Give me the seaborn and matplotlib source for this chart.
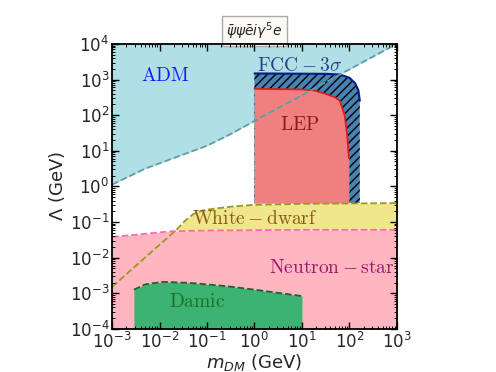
import numpy as np
import pandas as pd
import matplotlib
matplotlib.use("Agg")
import matplotlib.pyplot as plt
import matplotlib.ticker as mticker
import seaborn as sns

# ---------------------------
# data (log10 of m_DM and Lambda, in GeV)
# ---------------------------
adm_logm = [-3.0, -2.3, -1.57, -1.0, -0.5, 0.5, 2.3, 3.0]
adm_logL = [0.05, 0.5, 0.86, 1.14, 1.47, 2.2, 3.5, 4.0]

wd_logm = [-3.0, -1.67, -1.45, -1.29, -1.1, -0.87, -0.5, -0.03, 1.0, 3.0]
wd_logL = [-2.82, -1.25, -0.95, -0.78, -0.68, -0.63, -0.57, -0.52, -0.49, -0.47]

ns_logm = [-3.0, -2.5, -2.0, -1.72, -1.0, 0.0, 1.0, 3.0]
ns_logL = [-1.42, -1.36, -1.29, -1.26, -1.24, -1.23, -1.22, -1.22]

damic_logm = [-2.54, -2.3, -1.93, -1.36, -0.6, 0.0, 1.0]
damic_logL = [-2.9, -2.75, -2.68, -2.71, -2.8, -2.9, -3.08]

fcc_logm = [0.0, 1.5, 1.8, 2.0, 2.12, 2.19, 2.22, 2.22]
fcc_logL = [3.17, 3.16, 3.14, 3.05, 2.9, 2.7, 2.4, -0.47]
fcc_edge_n = 7  # points of the drawn boundary

lep_logm = [0.0, 1.0, 1.23, 1.45, 1.6, 1.7, 1.8, 1.85, 1.9, 1.95, 1.99, 1.99]
lep_logL = [2.74, 2.72, 2.70, 2.62, 2.55, 2.5, 2.4, 2.2, 2.0, 1.5, 0.8, -0.47]
lep_edge_n = 11

labels = {
    "ADM": (-1.88, 3.10, "#1a1aff"),
    r"$\mathrm{FCC}-3\sigma$": (0.96, 3.38, "#2b3f8c"),
    "LEP": (0.96, 1.73, "#8b1a1a"),
    r"$\mathrm{White}-\mathrm{dwarf}$": (0.01, -0.91, "#8b5a10"),
    r"$\mathrm{Neutron}-\mathrm{star}$": (1.63, -2.29, "#99156b"),
    "Damic": (-1.21, -3.22, "#1f6b2a"),
}

sns.set_style("ticks")
fig = plt.figure(figsize=(4.96, 3.72), dpi=100)
ax = fig.add_axes([0.226, 0.116, 0.574, 0.766])

p = lambda v: 10 ** np.asarray(v)
ymin, ymax = 1e-4, 1e4

# ADM
ax.fill_between(p(adm_logm), p(adm_logL), ymax, color="#b0e0e6", lw=0, zorder=1)
# neutron star
ax.fill_between(p(ns_logm), ymin, p(ns_logL), color="#ffb6c1", lw=0, zorder=2)
# white dwarf (between its line and neutron star line)
xx = np.linspace(-3, 3, 400)
wd_i = np.interp(xx, wd_logm, wd_logL)
ns_i = np.interp(xx, ns_logm, ns_logL)
ax.fill_between(p(xx), p(ns_i), p(wd_i), where=wd_i > ns_i, color="#f0e68c", lw=0, zorder=2)
# damic
ax.fill_between(p(damic_logm), ymin, p(damic_logL), color="#3cb371", lw=0, zorder=3)
# FCC hatched
ax.fill_between(p(fcc_logm), p(-0.47), p(fcc_logL), facecolor="#4682b4", edgecolor="black",
                hatch="////", lw=0, zorder=4)
# LEP
ax.fill_between(p(lep_logm), p(-0.47), p(lep_logL), color="#f08080", lw=0, zorder=5)

df_lines = pd.DataFrame({
    "m": list(p(wd_logm)) + list(p(ns_logm)) + list(p(damic_logm)),
    "L": list(p(wd_logL)) + list(p(ns_logL)) + list(p(damic_logL)),
    "set": ["wd"] * len(wd_logm) + ["ns"] * len(ns_logm) + ["damic"] * len(damic_logm),
})
sns.lineplot(data=df_lines, x="m", y="L", hue="set", sort=False, estimator=None,
             palette={"wd": "#9a9a1a", "ns": "#ff69b4", "damic": "#1f5f30"},
             linestyle="--", lw=1.3, legend=False, ax=ax, zorder=6)

ax.plot(p(fcc_logm[:fcc_edge_n]), p(fcc_logL[:fcc_edge_n]), color="#0a1a8a", lw=1.5, zorder=6)
ax.plot(p(lep_logm[:lep_edge_n]), p(lep_logL[:lep_edge_n]), color="#d42020", lw=1.3, zorder=6)
ax.plot([1, 1], [p(-0.47), p(2.74)], color="#c08090", lw=0.8, ls=":", zorder=6)
sns.lineplot(x=p(adm_logm), y=p(adm_logL), color="#5f9ea0", linestyle="--", lw=1.3, ax=ax, zorder=7)

for txt, (lx, ly, c) in labels.items():
    ax.text(10 ** lx, 10 ** ly, txt if txt.startswith("$") else r"$\mathrm{%s}$" % txt,
            color=c, fontsize=14, ha="center", va="center", math_fontfamily="cm", zorder=8)

ax.set_xscale("log")
ax.set_yscale("log")
ax.set_xlim(1e-3, 1e3)
ax.set_ylim(ymin, ymax)
ax.set_xticks([10.0 ** k for k in range(-3, 4)])
ax.set_yticks([10.0 ** k for k in range(-4, 5)])
ax.xaxis.set_minor_locator(mticker.LogLocator(base=10, subs=np.arange(2, 10), numticks=100))
ax.yaxis.set_minor_locator(mticker.LogLocator(base=10, subs=np.arange(2, 10), numticks=100))
ax.xaxis.set_minor_formatter(mticker.NullFormatter())
ax.yaxis.set_minor_formatter(mticker.NullFormatter())
ax.tick_params(which="both", direction="in", top=True, right=True, labelsize=12, pad=2,
               color="black")
ax.tick_params(which="major", length=5, width=1)
ax.tick_params(which="minor", length=2.5, width=0.7)
# keep ticks and frame above the filled regions
ax.xaxis.set_zorder(10)
ax.yaxis.set_zorder(10)
for s in ax.spines.values():
    s.set_linewidth(1.3)
    s.set_color("black")
    s.set_zorder(11)

ax.set_xlabel(r"$m_{DM}$ (GeV)", fontsize=13, labelpad=0)
ax.set_ylabel(r"$\Lambda$ (GeV)", fontsize=13, labelpad=2)
ax.set_title(r"$\bar{\psi}\psi\bar{e}i\gamma^5e$", fontsize=10, pad=6,
             bbox=dict(boxstyle="square,pad=0.3", fc="#fdfaf5", ec="#aaaaaa"))

fig.savefig("out.png", dpi=100)
